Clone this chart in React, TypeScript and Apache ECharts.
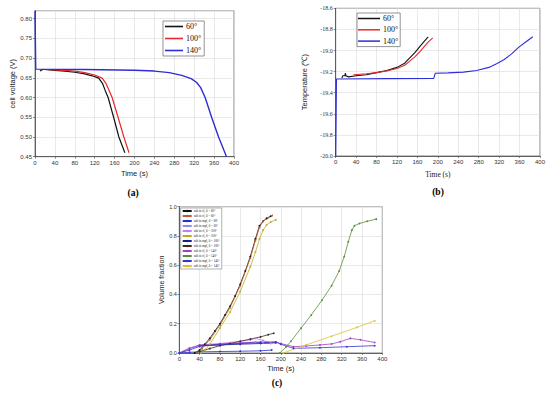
import React, { useEffect, useRef } from "react";
import * as echarts from "echarts";

// ---------- data ----------
const timeTicks = [0, 40, 80, 120, 160, 200, 240, 280, 320, 360, 400];

const aNames = ["60°", "100°", "140°"];
const a60 = [[10, 0.667], [13, 0.669], [15, 0.671], [20, 0.671], [40, 0.669], [60, 0.667], [80, 0.664], [100, 0.66], [115, 0.655], [128, 0.649], [136, 0.635], [141, 0.618], [147, 0.6], [158, 0.55], [168.6, 0.5], [180.6, 0.46]];
const a100 = [[20, 0.671], [40, 0.67], [60, 0.669], [80, 0.667], [100, 0.663], [120, 0.657], [135, 0.649], [143, 0.635], [149, 0.618], [155, 0.6], [167, 0.55], [178.6, 0.5], [189, 0.46]];
const a140 = [[0, 0.82], [1.5, 0.672], [100, 0.671], [200, 0.669], [240, 0.667], [270, 0.663], [295, 0.656], [314, 0.648], [325, 0.638], [333, 0.625], [342, 0.6], [355, 0.55], [369, 0.5], [385, 0.45]];

const b60 = [[12, -19.26], [14, -19.24], [18, -19.24], [19, -19.215], [20, -19.24], [25, -19.25], [40, -19.24], [60, -19.23], [80, -19.21], [100, -19.19], [120, -19.16], [135, -19.12], [145, -19.07], [155, -19.02], [165, -18.96], [172, -18.92], [181, -18.87]];
const b100 = [[35, -19.23], [60, -19.22], [80, -19.21], [100, -19.195], [120, -19.17], [135, -19.14], [145, -19.1], [155, -19.06], [165, -19.01], [172, -18.97], [181, -18.92], [190, -18.88]];
const b140 = [[0, -20], [1.5, -19.27], [100, -19.267], [192, -19.265], [195, -19.215], [220, -19.212], [250, -19.205], [276, -19.19], [300, -19.16], [315, -19.125], [330, -19.085], [345, -19.03], [358, -18.97], [372, -18.92], [386, -18.87]];

const cNames = [
  "salt in cl, θ = 60°", "salt in cl, θ = 60°", "salt in mpl, θ = 60°", "salt in mpl, θ = 60°",
  "salt in cl, θ = 100°", "salt in cl, θ = 100°", "salt in mpl, θ = 100°", "salt in mpl, θ = 100°",
  "salt in cl, θ = 140°", "salt in cl, θ = 140°", "salt in mpl, θ = 140°", "salt in mpl, θ = 140°",
];
const c1 = [[30, 0], [40, 0.02], [50, 0.06], [60, 0.1], [70, 0.15], [80, 0.2], [90, 0.26], [100, 0.32], [110, 0.39], [120, 0.47], [130, 0.56], [140, 0.66], [150, 0.78], [158, 0.87], [165, 0.9], [172, 0.92], [180, 0.935]];
const c2 = [[35, 0], [45, 0.03], [60, 0.09], [80, 0.19], [100, 0.31], [120, 0.46], [140, 0.65], [150, 0.77], [158, 0.86], [165, 0.9], [175, 0.925], [183, 0.94]];
const c3 = [[0, 0], [20, 0.005], [40, 0.008], [80, 0.01], [120, 0.012], [160, 0.015], [182, 0.02]];
const c4 = [[0, 0], [20, 0.03], [40, 0.05], [80, 0.055], [120, 0.065], [150, 0.075], [165, 0.07], [180, 0.065]];
const c5 = [[0, 0], [20, 0.035], [40, 0.055], [80, 0.065], [120, 0.08], [140, 0.09], [150, 0.1], [165, 0.085], [180, 0.07], [190, 0.07]];
const c6 = [[42, 0], [50, 0.02], [60, 0.06], [80, 0.17], [100, 0.28], [120, 0.42], [140, 0.59], [150, 0.69], [158, 0.78], [165, 0.84], [172, 0.875], [180, 0.895], [190, 0.91]];
const c7 = [[40, 0.05], [80, 0.055], [120, 0.06], [160, 0.065], [190, 0.07]];
const c8 = [[40, 0.01], [60, 0.03], [80, 0.05], [100, 0.065], [120, 0.08], [140, 0.095], [160, 0.11], [175, 0.125], [186, 0.135]];
const c9 = [[0, 0], [20, 0.03], [40, 0.055], [80, 0.06], [120, 0.07], [160, 0.075], [190, 0.075], [200, 0.065], [225, 0.043], [250, 0.048], [277, 0.055], [300, 0.062], [317, 0.077], [337, 0.1], [357, 0.09], [385, 0.072]];
const c10 = [[198, 0], [210, 0.04], [220, 0.08], [240, 0.17], [260, 0.26], [281, 0.36], [300, 0.46], [315, 0.56], [325, 0.66], [333, 0.76], [340, 0.84], [345, 0.87], [355, 0.885], [370, 0.9], [388, 0.915]];
const c11 = [[0, 0], [20, 0.02], [40, 0.045], [80, 0.06], [120, 0.065], [160, 0.07], [190, 0.075], [200, 0.06], [225, 0.032], [277, 0.036], [330, 0.043], [385, 0.05]];
const c12 = [[205, 0], [250, 0.055], [300, 0.115], [350, 0.175], [385, 0.22]];
const cData = [c1, c2, c3, c4, c5, c6, c7, c8, c9, c10, c11, c12];
const cColors = ["#111111", "#c05a2a", "#2b2bd9", "#8c8cea", "#c47cf5", "#b5ae22", "#1c1c90", "#3d2b1a", "#a23fc4", "#5a8d3a", "#3434cc", "#dcc232"];

const abColors = ["#111111", "#e8282c", "#2e2ed6"];

const SANS = "'Liberation Sans', Arial, sans-serif";
const SERIF = "'Liberation Serif', 'Times New Roman', serif";

function xAxisFor(gridIndex: number, nameFont: string, nameGap: number) {
  return {
    gridIndex, type: "value", min: 0, max: 400, interval: 40,
    name: "Time (s)", nameLocation: "middle", nameGap,
    nameTextStyle: { fontFamily: nameFont, fontSize: 7.5, color: "#222" },
    axisLine: { show: true, lineStyle: { color: "#444", width: 0.8 } },
    axisTick: { show: true, length: 2, lineStyle: { color: "#444", width: 0.6 } },
    axisLabel: { fontSize: 6, color: "#333", margin: 3, fontFamily: SANS, customValues: timeTicks },
    splitLine: { show: true, lineStyle: { color: "#dadada", width: 0.6 } },
  };
}

export default function App() {
  const ref = useRef<HTMLDivElement>(null);
  useEffect(() => {
    if (!ref.current) return;
    const chart = echarts.init(ref.current, null, { renderer: "svg" });
    const strip = (n: string) => n.split("|")[0];

    const series: any[] = [];
    [a60, a100, a140].forEach((d, i) => {
      series.push({
        type: "line", name: aNames[i] + "|a", xAxisIndex: 0, yAxisIndex: 0, data: d,
        symbol: "none", lineStyle: { color: abColors[i], width: i === 2 ? 1.4 : 1.2 }, itemStyle: { color: abColors[i] },
      });
    });
    [b60, b100, b140].forEach((d, i) => {
      series.push({
        type: "line", name: aNames[i] + "|b", xAxisIndex: 1, yAxisIndex: 1, data: d,
        symbol: "none", lineStyle: { color: abColors[i], width: 1.1 }, itemStyle: { color: abColors[i] },
      });
    });
    cData.forEach((d, i) => {
      series.push({
        type: "line", name: cNames[i] + "|c" + i, xAxisIndex: 2, yAxisIndex: 2, data: d,
        symbol: "circle", symbolSize: 1.8, showSymbol: true,
        lineStyle: { color: cColors[i], width: 0.8 }, itemStyle: { color: cColors[i] },
      });
    });

    const option: any = {
      animation: false,
      backgroundColor: "#ffffff",
      grid: [
        { left: 35, top: 10.7, width: 199, height: 146, show: true, borderColor: "#666", borderWidth: 0.8, backgroundColor: "#fff" },
        { left: 335.7, top: 8.3, width: 204.3, height: 147.7, show: true, borderColor: "#666", borderWidth: 0.8, backgroundColor: "#fff" },
        { left: 179.3, top: 206.7, width: 203, height: 146.3, show: true, borderColor: "#666", borderWidth: 0.8, backgroundColor: "#fff" },
      ],
      xAxis: [xAxisFor(0, SANS, 12.5), xAxisFor(1, SERIF, 14), xAxisFor(2, SANS, 11.5)],
      yAxis: [
        {
          gridIndex: 0, type: "value", min: 0.45, max: 0.82, interval: 0.05,
          name: "cell voltage (V)", nameLocation: "middle", nameGap: 19,
          nameTextStyle: { fontFamily: SANS, fontSize: 7.5, color: "#222" },
          axisLine: { show: true, lineStyle: { color: "#444", width: 0.8 } },
          axisTick: { show: true, length: 2, lineStyle: { color: "#444", width: 0.6 } },
          axisLabel: { fontSize: 6, color: "#333", margin: 3, fontFamily: SANS, showMaxLabel: false, formatter: (v: number) => v.toFixed(2) },
          splitLine: { show: true, lineStyle: { color: "#dadada", width: 0.6 } },
        },
        {
          gridIndex: 1, type: "value", min: -20, max: -18.6, interval: 0.2,
          name: "Temperature (℃)", nameLocation: "middle", nameGap: 27,
          nameTextStyle: { fontFamily: SANS, fontSize: 7.5, color: "#222" },
          axisLine: { show: true, lineStyle: { color: "#444", width: 0.8 } },
          axisTick: { show: true, length: 2, lineStyle: { color: "#444", width: 0.6 } },
          axisLabel: { fontSize: 6, color: "#333", margin: 3, fontFamily: SERIF, formatter: (v: number) => v.toFixed(1) },
          splitLine: { show: true, lineStyle: { color: "#dadada", width: 0.6 } },
        },
        {
          gridIndex: 2, type: "value", min: 0, max: 1, interval: 0.2,
          name: "Volume fraction", nameLocation: "middle", nameGap: 11.5,
          nameTextStyle: { fontFamily: SANS, fontSize: 7, color: "#222" },
          axisLine: { show: true, lineStyle: { color: "#444", width: 0.8 } },
          axisTick: { show: true, length: 2, lineStyle: { color: "#444", width: 0.6 } },
          axisLabel: { fontSize: 5.5, color: "#333", margin: 2.5, fontFamily: SANS, formatter: (v: number) => v.toFixed(1) },
          splitLine: { show: true, lineStyle: { color: "#dadada", width: 0.6 } },
        },
      ],
      legend: [
        {
          left: 163, top: 21, orient: "vertical", data: aNames.map((n) => n + "|a"),
          formatter: strip, icon: "rect", itemWidth: 18, itemHeight: 1.6, itemGap: 3, padding: [1, 3, 1, 2],
          borderColor: "#666", borderWidth: 0.7, backgroundColor: "#fff",
          textStyle: { fontFamily: SERIF, fontSize: 8, color: "#111", lineHeight: 9, padding: [0, 0, 0, -2] },
        },
        {
          left: 357, top: 13, orient: "vertical", data: aNames.map((n) => n + "|b"),
          formatter: strip, icon: "rect", itemWidth: 22, itemHeight: 1.5, itemGap: 2.3, padding: [1, 2, 1, 1],
          borderColor: "#666", borderWidth: 0.7, backgroundColor: "#fff",
          textStyle: { fontFamily: SERIF, fontSize: 8, color: "#111", lineHeight: 9, padding: [0, 0, 0, -2] },
        },
        {
          left: 180.7, top: 208, orient: "vertical", data: cNames.map((n, i) => n + "|c" + i),
          formatter: strip, itemWidth: 9, itemHeight: 3, itemGap: 1, padding: [1, 2, 1, 1],
          borderColor: "#666", borderWidth: 0.5, backgroundColor: "#fff",
          textStyle: { fontFamily: SERIF, fontSize: 3.2, color: "#222", lineHeight: 4, padding: [0, 0, 0, -3] },
        },
      ],
      graphic: [
        { type: "text", x: 133, y: 193, style: { text: "(a)", font: `bold 9.5px ${SERIF}`, fill: "#000", textAlign: "center", textVerticalAlign: "middle" } },
        { type: "text", x: 438, y: 192, style: { text: "(b)", font: `bold 9.5px ${SERIF}`, fill: "#000", textAlign: "center", textVerticalAlign: "middle" } },
        { type: "text", x: 277, y: 383, style: { text: "(c)", font: `bold 9.5px ${SERIF}`, fill: "#000", textAlign: "center", textVerticalAlign: "middle" } },
      ],
      series,
    };
    chart.setOption(option);
    return () => chart.dispose();
  }, []);
  return <div ref={ref} style={{ position: "absolute", left: 0, top: 0, width: 550, height: 395 }} />;
}
